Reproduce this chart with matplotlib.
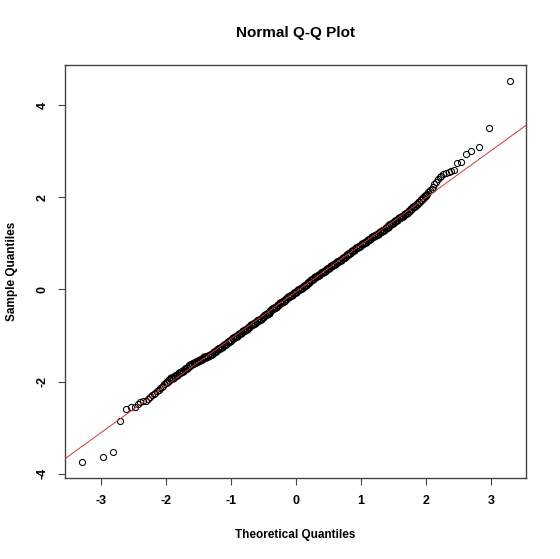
import matplotlib
matplotlib.use("Agg")
import matplotlib.pyplot as plt

# Normal Q-Q plot

# lower tail, points that can be told apart
low_theo = [-3.29, -2.97, -2.81, -2.70, -2.61, -2.54, -2.48, -2.43, -2.39, -2.35,
            -2.31, -2.27, -2.24, -2.21, -2.18, -2.16, -2.13, -2.11, -2.09, -2.06,
            -2.04, -2.02, -2.00]
low_sample = [-3.75, -3.63, -3.52, -2.85, -2.59, -2.56, -2.54, -2.48, -2.45, -2.43,
              -2.41, -2.38, -2.33, -2.30, -2.26, -2.24, -2.21, -2.18, -2.14, -2.12,
              -2.10, -2.06, -2.03]

# dense middle band
mid_theo = [-1.98, -1.95, -1.92, -1.89, -1.86, -1.83, -1.80, -1.77, -1.74, -1.71,
            -1.68, -1.65, -1.62, -1.59, -1.56, -1.53, -1.50, -1.47, -1.44, -1.41,
            -1.38, -1.35, -1.32, -1.29, -1.26, -1.23, -1.20, -1.17, -1.14, -1.11,
            -1.08, -1.05, -1.02, -0.99, -0.96, -0.93, -0.90, -0.87, -0.84, -0.81,
            -0.78, -0.75, -0.72, -0.69, -0.66, -0.63, -0.60, -0.57, -0.54, -0.51,
            -0.48, -0.45, -0.42, -0.39, -0.36, -0.33, -0.30, -0.27, -0.24, -0.21,
            -0.18, -0.15, -0.12, -0.09, -0.06, -0.03, 0.00, 0.03, 0.06, 0.09,
            0.12, 0.15, 0.18, 0.21, 0.24, 0.27, 0.30, 0.33, 0.36, 0.39,
            0.42, 0.45, 0.48, 0.51, 0.54, 0.57, 0.60, 0.63, 0.66, 0.69,
            0.72, 0.75, 0.78, 0.81, 0.84, 0.87, 0.90, 0.93, 0.96, 0.99,
            1.02, 1.05, 1.08, 1.11, 1.14, 1.17, 1.20, 1.23, 1.26, 1.29,
            1.32, 1.35, 1.38, 1.41, 1.44, 1.47, 1.50, 1.53, 1.56, 1.59,
            1.62, 1.65, 1.68, 1.71, 1.74, 1.77, 1.80, 1.83, 1.86, 1.89,
            1.92, 1.95, 1.98]
mid_sample = [-2.00, -1.97, -1.93, -1.91, -1.87, -1.85, -1.81, -1.78, -1.76, -1.72,
              -1.70, -1.66, -1.63, -1.61, -1.59, -1.57, -1.55, -1.52, -1.50, -1.47,
              -1.46, -1.44, -1.42, -1.39, -1.36, -1.33, -1.30, -1.27, -1.24, -1.21,
              -1.18, -1.15, -1.12, -1.09, -1.06, -1.03, -1.00, -0.97, -0.94, -0.91,
              -0.88, -0.85, -0.81, -0.78, -0.75, -0.72, -0.69, -0.66, -0.63, -0.60,
              -0.56, -0.53, -0.50, -0.46, -0.43, -0.40, -0.37, -0.34, -0.30, -0.27,
              -0.24, -0.21, -0.17, -0.14, -0.11, -0.08, -0.05, -0.02, 0.01, 0.04,
              0.07, 0.10, 0.13, 0.17, 0.20, 0.23, 0.26, 0.29, 0.32, 0.35,
              0.38, 0.41, 0.44, 0.47, 0.50, 0.53, 0.56, 0.59, 0.62, 0.65,
              0.68, 0.71, 0.74, 0.77, 0.80, 0.83, 0.86, 0.89, 0.92, 0.95,
              0.98, 1.01, 1.04, 1.07, 1.10, 1.13, 1.16, 1.18, 1.21, 1.24,
              1.27, 1.30, 1.33, 1.36, 1.39, 1.42, 1.45, 1.48, 1.51, 1.54,
              1.57, 1.60, 1.64, 1.67, 1.71, 1.74, 1.78, 1.82, 1.86, 1.90,
              1.95, 1.99, 2.03]

# upper tail
high_theo = [2.00, 2.02, 2.04, 2.06, 2.09, 2.11, 2.13, 2.16, 2.18, 2.21,
             2.24, 2.27, 2.31, 2.35, 2.39, 2.43, 2.48, 2.54, 2.61, 2.70,
             2.81, 2.97, 3.29]
high_sample = [2.05, 2.07, 2.11, 2.15, 2.18, 2.22, 2.28, 2.34, 2.40, 2.44,
               2.47, 2.50, 2.52, 2.55, 2.57, 2.59, 2.75, 2.77, 2.94, 3.01,
               3.09, 3.51, 4.53]

# qqline (through the quartiles)
line_intercept = -0.05
line_slope = 1.02

plt.rcParams['font.family'] = ['Liberation Sans', 'DejaVu Sans']

fig = plt.figure(figsize=(5.6, 5.59), dpi=100)
ax = fig.add_axes([65 / 560, 1 - 478 / 559, 461 / 560, 413 / 559])

# tails: single open circles
ax.plot(low_theo + high_theo, low_sample + high_sample, linestyle='none', marker='o',
        markersize=4.4, markerfacecolor='none', markeredgecolor='black',
        markeredgewidth=0.75, zorder=2)
# middle: so many points they merge into a thick black band
ax.plot(mid_theo, mid_sample, linestyle='none', marker='o', markersize=4.8,
        markerfacecolor='none', markeredgecolor='black', markeredgewidth=1.2, zorder=2)
ax.axline((0, line_intercept), slope=line_slope, color='#c83a3a', linewidth=0.7, zorder=3)

ax.set_xlim(-3.55, 3.54)
ax.set_ylim(-4.09, 4.87)
ax.set_xticks([-3, -2, -1, 0, 1, 2, 3])
ax.set_yticks([-4, -2, 0, 2, 4])
ax.set_xticklabels(['-3', '-2', '-1', '0', '1', '2', '3'], fontweight='bold', fontsize=9)
ax.set_yticklabels(['-4', '-2', '0', '2', '4'], fontweight='bold', fontsize=9,
                   rotation=90, va='center')
ax.tick_params(direction='out', length=5, width=0.8, color='#444444', pad=7)

for s in ax.spines.values():
    s.set_color('#444444')
    s.set_linewidth(1.0)

fig.text(295 / 560, 1 - 33 / 559, 'Normal Q-Q Plot', ha='center', va='center',
         fontsize=11, fontweight='bold')
fig.text(295 / 560, 1 - 535 / 559, 'Theoretical Quantiles', ha='center', va='center',
         fontsize=8.5, fontweight='bold')
fig.text(12 / 560, 1 - 271 / 559, 'Sample Quantiles', ha='center', va='center',
         fontsize=8.5, fontweight='bold', rotation=90)

fig.savefig('out.png', dpi=100)
